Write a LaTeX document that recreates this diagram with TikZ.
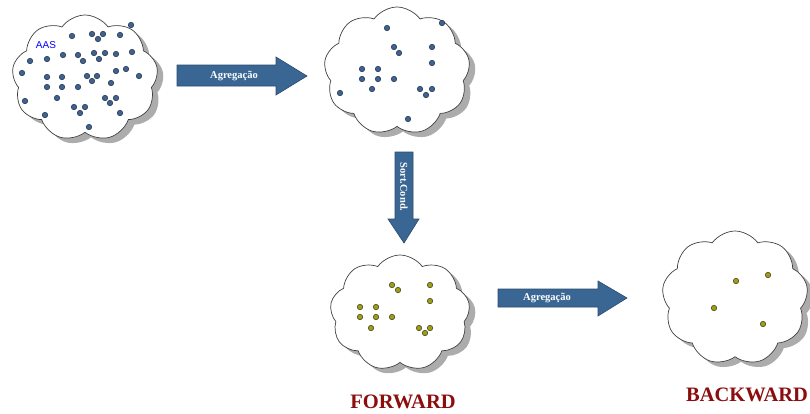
\documentclass[tikz,border=0pt]{standalone}
\usepackage{fontspec}
\setmainfont{Liberation Serif}
\newfontfamily\labelsans{Liberation Sans}
\usetikzlibrary{shapes.symbols,shadows}
\definecolor{arrowblue}{HTML}{3A6694}
\definecolor{arrowedge}{HTML}{2A4A6E}
\definecolor{dotblue}{HTML}{3F6390}
\definecolor{dotedge}{HTML}{1E2E48}
\definecolor{dotolive}{HTML}{9E9E10}
\definecolor{oliveedge}{HTML}{3A3A20}
\definecolor{titlered}{HTML}{8B0D0D}
\tikzset{
  puff/.style={cloud, cloud puffs=9, cloud puff arc=110, draw=black!75,
    line width=0.7pt, fill=white, inner sep=0pt,
    drop shadow={shadow xshift=6pt, shadow yshift=-5pt, fill=black!50, opacity=0.65}},
  bdot/.style={circle, fill=dotblue, draw=dotedge, line width=0.5pt, inner sep=0pt, minimum size=5.5pt},
  odot/.style={circle, fill=dotolive, draw=oliveedge, line width=0.5pt, inner sep=0pt, minimum size=5.5pt},
  blockarrow/.style={fill=arrowblue, draw=arrowedge, line width=0.6pt},
  arrowtext/.style={text=white, font=\bfseries\fontsize{10.5}{11}\selectfont, inner sep=0pt},
  title/.style={text=titlered, font=\bfseries\fontsize{20.5}{22}\selectfont}
}
\begin{document}
\begin{tikzpicture}[x=1pt,y=-1pt]
\useasboundingbox (0,0) rectangle (810,413);

% clouds
\node[puff, minimum width=146pt, minimum height=126pt] (c1) at (85,78) {};
\node[puff, minimum width=146pt, minimum height=128pt] (c2) at (397,71) {};
\node[puff, minimum width=140pt, minimum height=116pt] (c3) at (400,313) {};
\node[puff, minimum width=146pt, minimum height=134pt] (c4) at (735,298) {};

% dots of the first cloud
\foreach \x/\y [count=\i] in {131/25,72/36,92/34,98/39,103/34,120/35,30/61,47/59,63/55,78/55,
  83/61,94/53,99/59,105/53,116/54,132/52,22/73,47/77,62/77,87/76,92/81,97/76,116/71,126/69,
  139/76,111/83,47/87,62/87,78/87,57/98,25/101,105/98,116/98,110/103,74/107,85/107,80/113,
  45/115,120/113,89/127}
  \node[bdot] (a\i) at (\x,\y) {};
\node[text=blue, font=\labelsans\fontsize{10}{10}\selectfont, inner sep=0pt] (aas) at (46,45) {AAS};

% dots of the second cloud
\foreach \x/\y [count=\i] in {387/28,442/23,394/47,399/53,432/47,432/63,362/69,378/69,362/79,
  378/79,394/79,372/89,340/93,420/89,432/89,426/95,408/119}
  \node[bdot] (b\i) at (\x,\y) {};

% dots of the third cloud
\foreach \x/\y [count=\i] in {392/285,398/290,430/285,430/301,360/307,376/307,360/317,376/317,
  392/317,371/328,419/328,430/328,425/333}
  \node[odot] (f\i) at (\x,\y) {};

% dots of the fourth cloud
\foreach \x/\y [count=\i] in {736/281,768/275,714/308,763/324}
  \node[odot] (k\i) at (\x,\y) {};

% block arrows
\draw[blockarrow] (177,65) -- (276,65) -- (276,57) -- (307,76) -- (276,95) -- (276,86) -- (177,86) -- cycle;
\node[arrowtext] (t1) at (234,76) {Agregação};

\draw[blockarrow] (395,152) -- (413,152) -- (413,219) -- (419,219) -- (404,243) -- (388,219) -- (395,219) -- cycle;
\node[arrowtext, rotate=-90] (t2) at (404,187) {Sort.Cond.};

\draw[blockarrow] (498,289) -- (598,289) -- (598,281) -- (627,298) -- (598,316) -- (598,307) -- (498,307) -- cycle;
\node[arrowtext] (t3) at (547,298) {Agregação};

% titles
\node[title] (fw) at (403,402) {FORWARD};
\node[title] (bw) at (747,395) {BACKWARD};
\end{tikzpicture}
\end{document}
